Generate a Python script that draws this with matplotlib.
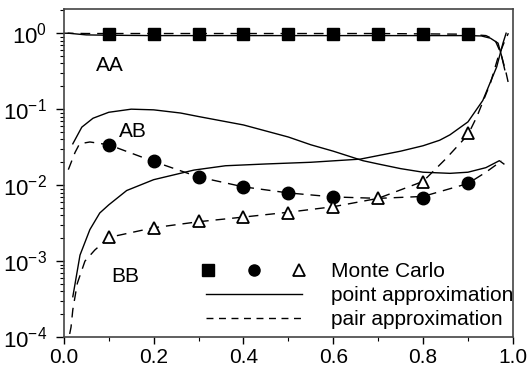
import matplotlib
matplotlib.use("Agg")
import numpy as np
import matplotlib.pyplot as plt
from matplotlib.lines import Line2D
from matplotlib.legend_handler import HandlerTuple
from matplotlib.ticker import LogLocator, MultipleLocator

plt.rcParams['font.family'] = ['Liberation Sans', 'DejaVu Sans']
plt.rcParams['mathtext.default'] = 'regular'
plt.rcParams['axes.unicode_minus'] = False

# Monte Carlo points
mc_x = [0.1, 0.2, 0.3, 0.4, 0.5, 0.6, 0.7, 0.8, 0.9]
mc_aa = [0.98, 0.98, 0.98, 0.98, 0.98, 0.98, 0.98, 0.98, 0.97]
mc_ab = [0.0336, 0.0207, 0.0127, 0.0094, 0.0079, 0.0069, np.nan, 0.0068, 0.0106]
mc_bb = [0.00207, 0.0027, 0.00336, 0.0038, 0.0043, 0.0051, 0.0067, 0.011, 0.048]

# point approximation (solid)
pt_aa_x = [0.01, 0.05, 0.1, 0.2, 0.3, 0.4, 0.5, 0.6, 0.7, 0.8, 0.9, 0.93, 0.95, 0.967, 0.975, 0.982]
pt_aa_y = [1.0, 0.95, 0.94, 0.93, 0.93, 0.93, 0.93, 0.93, 0.93, 0.93, 0.93, 0.92, 0.86, 0.74, 0.5, 0.33]
pt_ab_x = [0.02, 0.04, 0.065, 0.1, 0.15, 0.2, 0.26, 0.3, 0.4, 0.5, 0.55, 0.6, 0.666, 0.7, 0.75, 0.8, 0.86, 0.9, 0.94, 0.97, 0.98]
pt_ab_y = [0.035, 0.058, 0.076, 0.091, 0.1, 0.098, 0.089, 0.08, 0.062, 0.043, 0.034, 0.028, 0.021, 0.019, 0.0165,
           0.0148, 0.0143, 0.0148, 0.017, 0.021, 0.019]
pt_bb_x = [0.02, 0.036, 0.058, 0.08, 0.1, 0.14, 0.2, 0.29, 0.36, 0.45, 0.55, 0.66, 0.75, 0.8, 0.837, 0.86, 0.9,
           0.933, 0.964, 0.978, 0.985]
pt_bb_y = [0.00034, 0.0012, 0.0026, 0.0043, 0.0055, 0.0085, 0.0118, 0.0158, 0.018, 0.019, 0.02, 0.022, 0.028,
           0.033, 0.039, 0.046, 0.068, 0.13, 0.36, 0.74, 1.0]

# pair approximation (dashed)
pr_aa_x = [0.0, 0.05, 0.1, 0.2, 0.3, 0.4, 0.5, 0.6, 0.7, 0.8, 0.9, 0.94, 0.96, 0.973, 0.985, 0.99]
pr_aa_y = [1.0, 0.99, 0.99, 0.99, 0.99, 0.99, 0.99, 0.99, 0.99, 0.98, 0.97, 0.93, 0.82, 0.55, 0.3, 0.22]
pr_ab_x = [0.01, 0.025, 0.035, 0.058, 0.1, 0.2, 0.3, 0.4, 0.5, 0.6, 0.7, 0.8, 0.9, 0.94, 0.96, 0.975]
pr_ab_y = [0.016, 0.027, 0.035, 0.037, 0.034, 0.0205, 0.0128, 0.0095, 0.0079, 0.007, 0.0067, 0.0071, 0.0105,
           0.0148, 0.018, 0.021]
pr_bb_x = [0.013, 0.016, 0.02, 0.03, 0.047, 0.069, 0.09, 0.1, 0.2, 0.3, 0.4, 0.5, 0.6, 0.7, 0.8, 0.85, 0.9,
           0.92, 0.95, 0.967, 0.98, 0.99]
pr_bb_y = [0.00011, 0.000135, 0.00023, 0.00051, 0.001, 0.0014, 0.0018, 0.00205, 0.00275, 0.0033, 0.0038, 0.0044,
           0.0052, 0.0067, 0.0112, 0.022, 0.046, 0.08, 0.22, 0.48, 0.74, 1.0]

fig = plt.figure(figsize=(5.32, 3.68), dpi=100)
ax = fig.add_axes([0.120, 0.084, 0.844, 0.891])

lw = 1.0
dash = (7, 5)
ax.plot(pt_aa_x, pt_aa_y, color='black', lw=lw)
ax.plot(pt_ab_x, pt_ab_y, color='black', lw=lw)
ax.plot(pt_bb_x, pt_bb_y, color='black', lw=lw)
ax.plot(pr_aa_x, pr_aa_y, color='black', lw=lw, dashes=dash)
ax.plot(pr_ab_x, pr_ab_y, color='black', lw=lw, dashes=dash)
ax.plot(pr_bb_x, pr_bb_y, color='black', lw=lw, dashes=dash)

ax.plot(mc_x, mc_aa, 's', color='black', ms=9, zorder=5)
ax.plot(mc_x, mc_ab, 'o', color='black', ms=9, zorder=5)
ax.plot(mc_x, mc_bb, '^', mfc='white', mec='black', mew=1.3, ms=9, zorder=5)

ax.set_yscale('log')
ax.set_xlim(0, 1)
ax.set_ylim(1e-4, 2.07)
ax.xaxis.set_major_locator(MultipleLocator(0.2))
ax.xaxis.set_minor_locator(MultipleLocator(0.1))
ax.xaxis.set_major_formatter(plt.FuncFormatter(lambda v, p: f'{v:.1f}'))
ax.yaxis.set_major_locator(LogLocator(base=10, numticks=10))
ax.yaxis.set_minor_locator(LogLocator(base=10, subs=np.arange(2, 10), numticks=10))
ax.tick_params(axis='y', which='major', labelsize=16, length=6, width=1, direction='out', pad=6)
ax.tick_params(axis='y', which='minor', length=3, width=0.8, direction='out')
ax.tick_params(axis='x', which='major', labelsize=15, length=5, width=1, direction='out', pad=3)
ax.tick_params(axis='x', which='minor', length=3, width=0.8, direction='out')
for s in ax.spines.values():
    s.set_color('#444444')
    s.set_linewidth(1.2)

ax.text(0.102, 0.38, 'AA', fontsize=15, ha='center', va='center')
ax.text(0.154, 0.051, 'AB', fontsize=15, ha='center', va='center')
ax.text(0.136, 0.00062, 'BB', fontsize=15, ha='center', va='center')

h_mc = (Line2D([], [], marker='s', ls='none', color='black', ms=8),
        Line2D([], [], marker='o', ls='none', color='black', ms=8),
        Line2D([], [], marker='^', ls='none', mfc='white', mec='black', mew=1.3, ms=8))
h_pt = Line2D([], [], color='black', lw=lw)
h_pr = Line2D([], [], color='black', lw=lw, dashes=(5, 4))
ax.legend([h_mc, h_pt, h_pr], ['Monte Carlo', 'point approximation', 'pair approximation'],
          handler_map={tuple: HandlerTuple(ndivide=None, pad=1.97)},
          loc='lower right', bbox_to_anchor=(1.033, -0.021), frameon=False, fontsize=15,
          handlelength=4.6, handletextpad=1.4, labelspacing=0.25, borderpad=0.2)

fig.savefig('out.png', dpi=100)
